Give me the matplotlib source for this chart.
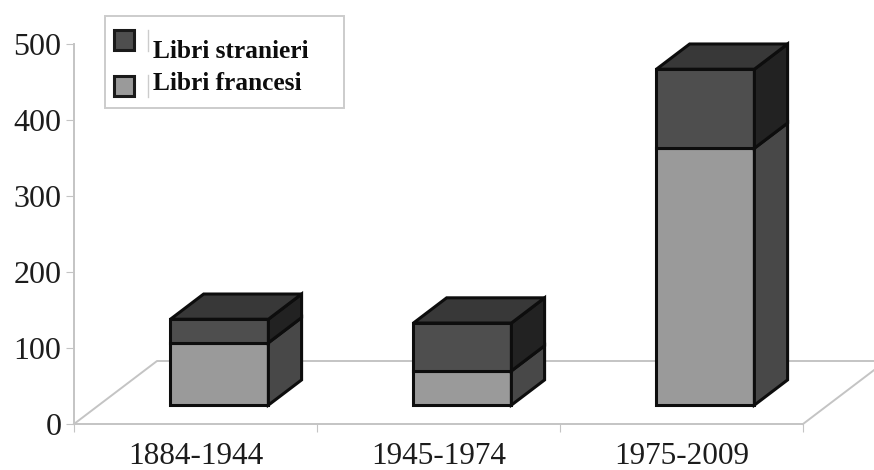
import matplotlib
matplotlib.use("Agg")
import matplotlib.pyplot as plt
from matplotlib.patches import Polygon, Rectangle
from matplotlib.lines import Line2D

periods = ["1884-1944", "1945-1974", "1975-2009"]
francesi = [82, 45, 338]
stranieri = [31, 63, 104]
yticks = [0, 100, 200, 300, 400, 500]

W, H = 874, 470
BAR_W = 0.403
BAR_SHIFT = -0.004
# depth of the 3d floor, in data units
DEPTH_X = 83 / 243
DEPTH_Y = 63 / 0.76
FRONT, BACK = 0.3, 0.7

FRANCESI_C = {"front": "#9a9a9a", "side": "#484848"}
STRANIERI_C = {"front": "#4e4e4e", "side": "#222222", "top": "#383838"}
EDGE = "#0d0d0d"
AXIS_C = "#c4c4c4"
TEXT_C = "#1c1c1c"


def proj(x, v, d):
    return (x + d * DEPTH_X, v + d * DEPTH_Y)


def box(ax, x, v0, v1, colors, top=False):
    xl, xr = x - BAR_W / 2, x + BAR_W / 2
    faces = [("front", [proj(xl, v0, FRONT), proj(xr, v0, FRONT), proj(xr, v1, FRONT), proj(xl, v1, FRONT)]),
             ("side", [proj(xr, v0, FRONT), proj(xr, v0, BACK), proj(xr, v1, BACK), proj(xr, v1, FRONT)])]
    if top:
        faces.append(("top", [proj(xl, v1, FRONT), proj(xr, v1, FRONT), proj(xr, v1, BACK), proj(xl, v1, BACK)]))
    for name, pts in faces:
        ax.add_patch(Polygon(pts, closed=True, fc=colors[name], ec=EDGE, lw=2.2,
                             joinstyle="miter", zorder=4, clip_on=False))


fig = plt.figure(figsize=(W / 100, H / 100), dpi=100)
ax = fig.add_axes([74 / W, 1 - 424 / H, 729 / W, 380 / H])
ax.set_xlim(0, 3)
ax.set_ylim(0, 500)
for s in ["top", "right"]:
    ax.spines[s].set_visible(False)
for s in ["left", "bottom"]:
    ax.spines[s].set_color(AXIS_C)
    ax.spines[s].set_linewidth(1.4)

ax.set_yticks(yticks)
ax.set_xticks([0, 1, 2, 3])
ax.set_xticklabels([])
ax.set_xticks([0.5, 1.5, 2.5], minor=True)
ax.set_xticklabels(periods, minor=True, family="Liberation Serif", fontsize=22.5, color=TEXT_C)
ax.tick_params(axis="x", which="minor", length=0, pad=13)
ax.tick_params(axis="x", which="major", length=6, color=AXIS_C, direction="out")
ax.tick_params(axis="y", length=6, color=AXIS_C, labelsize=23, labelcolor=TEXT_C, pad=3)
for t in ax.get_yticklabels():
    t.set_family("Liberation Serif")

# floor
floor_x = [0, DEPTH_X, 3 + DEPTH_X, 3]
floor_y = [0, DEPTH_Y, DEPTH_Y, 0]
ax.plot(floor_x, floor_y, color=AXIS_C, lw=1.4, clip_on=False, zorder=1)

for i in range(len(periods)):
    x = i + 0.5 + BAR_SHIFT
    box(ax, x, 0, francesi[i], FRANCESI_C)
    box(ax, x, francesi[i], francesi[i] + stranieri[i], STRANIERI_C, top=True)

# legend box, pixel coords
def px(x, y):
    return x / W, 1 - y / H


lx, ly = px(105, 108)
fig.add_artist(Rectangle((lx, ly), 239 / W, 92 / H, transform=fig.transFigure,
                         fc="white", ec="#cccccc", lw=1.4, zorder=5))
for (sx, sy), c in zip([(114, 30), (114, 76)], ["#4e4e4e", "#9a9a9a"]):
    x0, y0 = px(sx, sy + 20)
    fig.add_artist(Rectangle((x0, y0), 20 / W, 20 / H, transform=fig.transFigure,
                             fc=c, ec="#1a1a1a", lw=2.2, zorder=6))
for y0, y1 in [(30, 51), (75, 97)]:
    fig.add_artist(Line2D([148 / W, 148 / W], [1 - y0 / H, 1 - y1 / H], transform=fig.transFigure,
                          color="#cccccc", lw=1, zorder=6))
for (tx, ty), label in zip([(153, 51), (153, 83)], ["Libri stranieri", "Libri francesi"]):
    x0, y0 = px(tx, ty)
    fig.text(x0, y0, label, family="Liberation Serif", weight="bold", fontsize=18.3,
             color="#0d0d0d", va="center", ha="left", zorder=7)

fig.savefig("out.png", dpi=100)
